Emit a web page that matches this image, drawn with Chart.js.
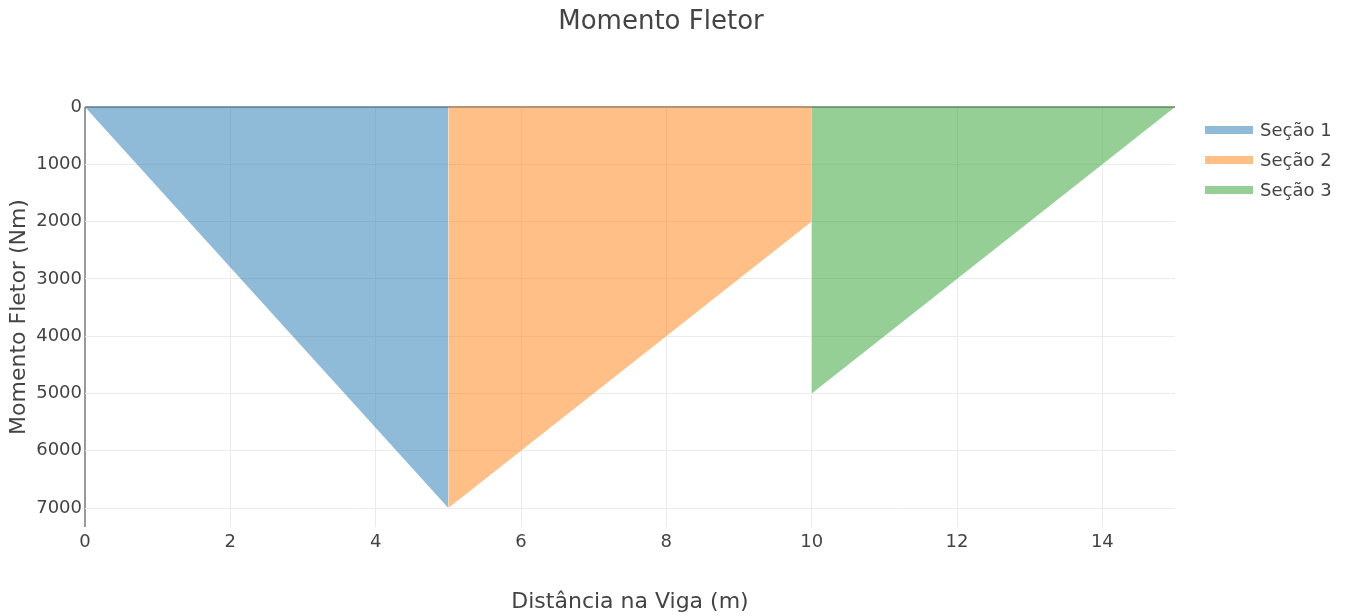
<!DOCTYPE html>
<html lang="pt-BR">
<head>
<meta charset="UTF-8">
<title>Momento Fletor</title>
<script src="https://cdn.jsdelivr.net/npm/chart.js@4.4.1/dist/chart.umd.min.js"></script>
<style>
    html, body { margin: 0; padding: 0; background: #fff; }
</style>
</head>
<body>
<canvas id="grafico-momento" width="1349" height="616"></canvas>
<script>
// Momento fletor ao longo da viga, uma série por seção
const nomesSecoes = ['Seção 1', 'Seção 2', 'Seção 3'];
const distSecao1 = [0, 5];
const momentoSecao1 = [0, 7000];
const distSecao2 = [5, 10];
const momentoSecao2 = [7000, 2000];
const distSecao3 = [10, 15];
const momentoSecao3 = [5000, 0];
const ticksDistancia = [0, 2, 4, 6, 8, 10, 12, 14];
const ticksMomento = [0, 1000, 2000, 3000, 4000, 5000, 6000, 7000];
const coresSecoes = ['rgba(31, 119, 180, 0.5)', 'rgba(255, 127, 14, 0.5)', 'rgba(44, 160, 44, 0.5)'];

const FONTE = '"DejaVu Sans", Verdana, sans-serif';
const COR_TEXTO = '#444';

function pontos(xs, ys) {
    return xs.map((x, i) => ({ x: x, y: ys[i] }));
}

const secoes = [
    pontos(distSecao1, momentoSecao1),
    pontos(distSecao2, momentoSecao2),
    pontos(distSecao3, momentoSecao3)
];

// Título e legenda desenhados à mão, no estilo do plotly
const tituloELegenda = {
    id: 'tituloELegenda',
    afterDraw(chart) {
        const ctx = chart.ctx;
        const area = chart.chartArea;
        ctx.save();
        ctx.fillStyle = COR_TEXTO;
        ctx.font = '26px ' + FONTE;
        ctx.textAlign = 'center';
        ctx.textBaseline = 'middle';
        ctx.fillText('Momento Fletor', 661, 22);

        ctx.font = '18px ' + FONTE;
        ctx.textAlign = 'left';
        chart.data.datasets.forEach((ds, i) => {
            const y = area.top + 23 + i * 30;
            ctx.fillStyle = ds.backgroundColor;
            ctx.fillRect(area.right + 30, y - 4, 48, 8);
            ctx.fillStyle = COR_TEXTO;
            ctx.fillText(ds.label, area.right + 85, y + 1);
        });
        ctx.restore();
    }
};

function corGrade(c) {
    return c.tick && c.tick.value === 0 ? '#9a9a9a' : '#ebebeb';
}
function larguraGrade(c) {
    return c.tick && c.tick.value === 0 ? 2 : 1;
}

new Chart(document.getElementById('grafico-momento').getContext('2d'), {
    type: 'line',
    data: {
        datasets: secoes.map((dados, i) => ({
            label: nomesSecoes[i],
            data: dados,
            backgroundColor: coresSecoes[i],
            borderColor: coresSecoes[i],
            borderWidth: 0,
            pointRadius: 0,
            fill: 'origin'
        }))
    },
    options: {
        responsive: false,
        animation: false,
        devicePixelRatio: 1,
        layout: { padding: { top: 107, right: 174, bottom: 0, left: 0 } },
        plugins: {
            legend: { display: false },
            title: { display: false },
            tooltip: { enabled: false }
        },
        scales: {
            x: {
                type: 'linear',
                min: 0,
                max: 15,
                afterBuildTicks: (escala) => { escala.ticks = ticksDistancia.map(v => ({ value: v })); },
                ticks: { padding: 5, color: COR_TEXTO, font: { family: FONTE, size: 18 }, callback: v => String(v) },
                grid: { color: corGrade, lineWidth: larguraGrade, drawTicks: false },
                border: { display: false },
                title: {
                    display: true,
                    text: 'Distância na Viga (m)',
                    color: COR_TEXTO,
                    font: { family: FONTE, size: 22 },
                    padding: { top: 0, bottom: 1 }
                },
                afterFit: (escala) => { escala.height = 89; }
            },
            y: {
                reverse: true,
                min: 0,
                max: 7330,
                afterBuildTicks: (escala) => { escala.ticks = ticksMomento.map(v => ({ value: v })); },
                ticks: { padding: 3, color: COR_TEXTO, font: { family: FONTE, size: 18 }, callback: v => String(v) },
                grid: { color: corGrade, lineWidth: larguraGrade, drawTicks: false },
                border: { display: false },
                title: {
                    display: true,
                    text: 'Momento Fletor (Nm)',
                    color: COR_TEXTO,
                    font: { family: FONTE, size: 22 },
                    padding: { top: 6, bottom: 0 }
                },
                afterFit: (escala) => { escala.width = 85; }
            }
        }
    },
    plugins: [tituloELegenda]
});
</script>
</body>
</html>
